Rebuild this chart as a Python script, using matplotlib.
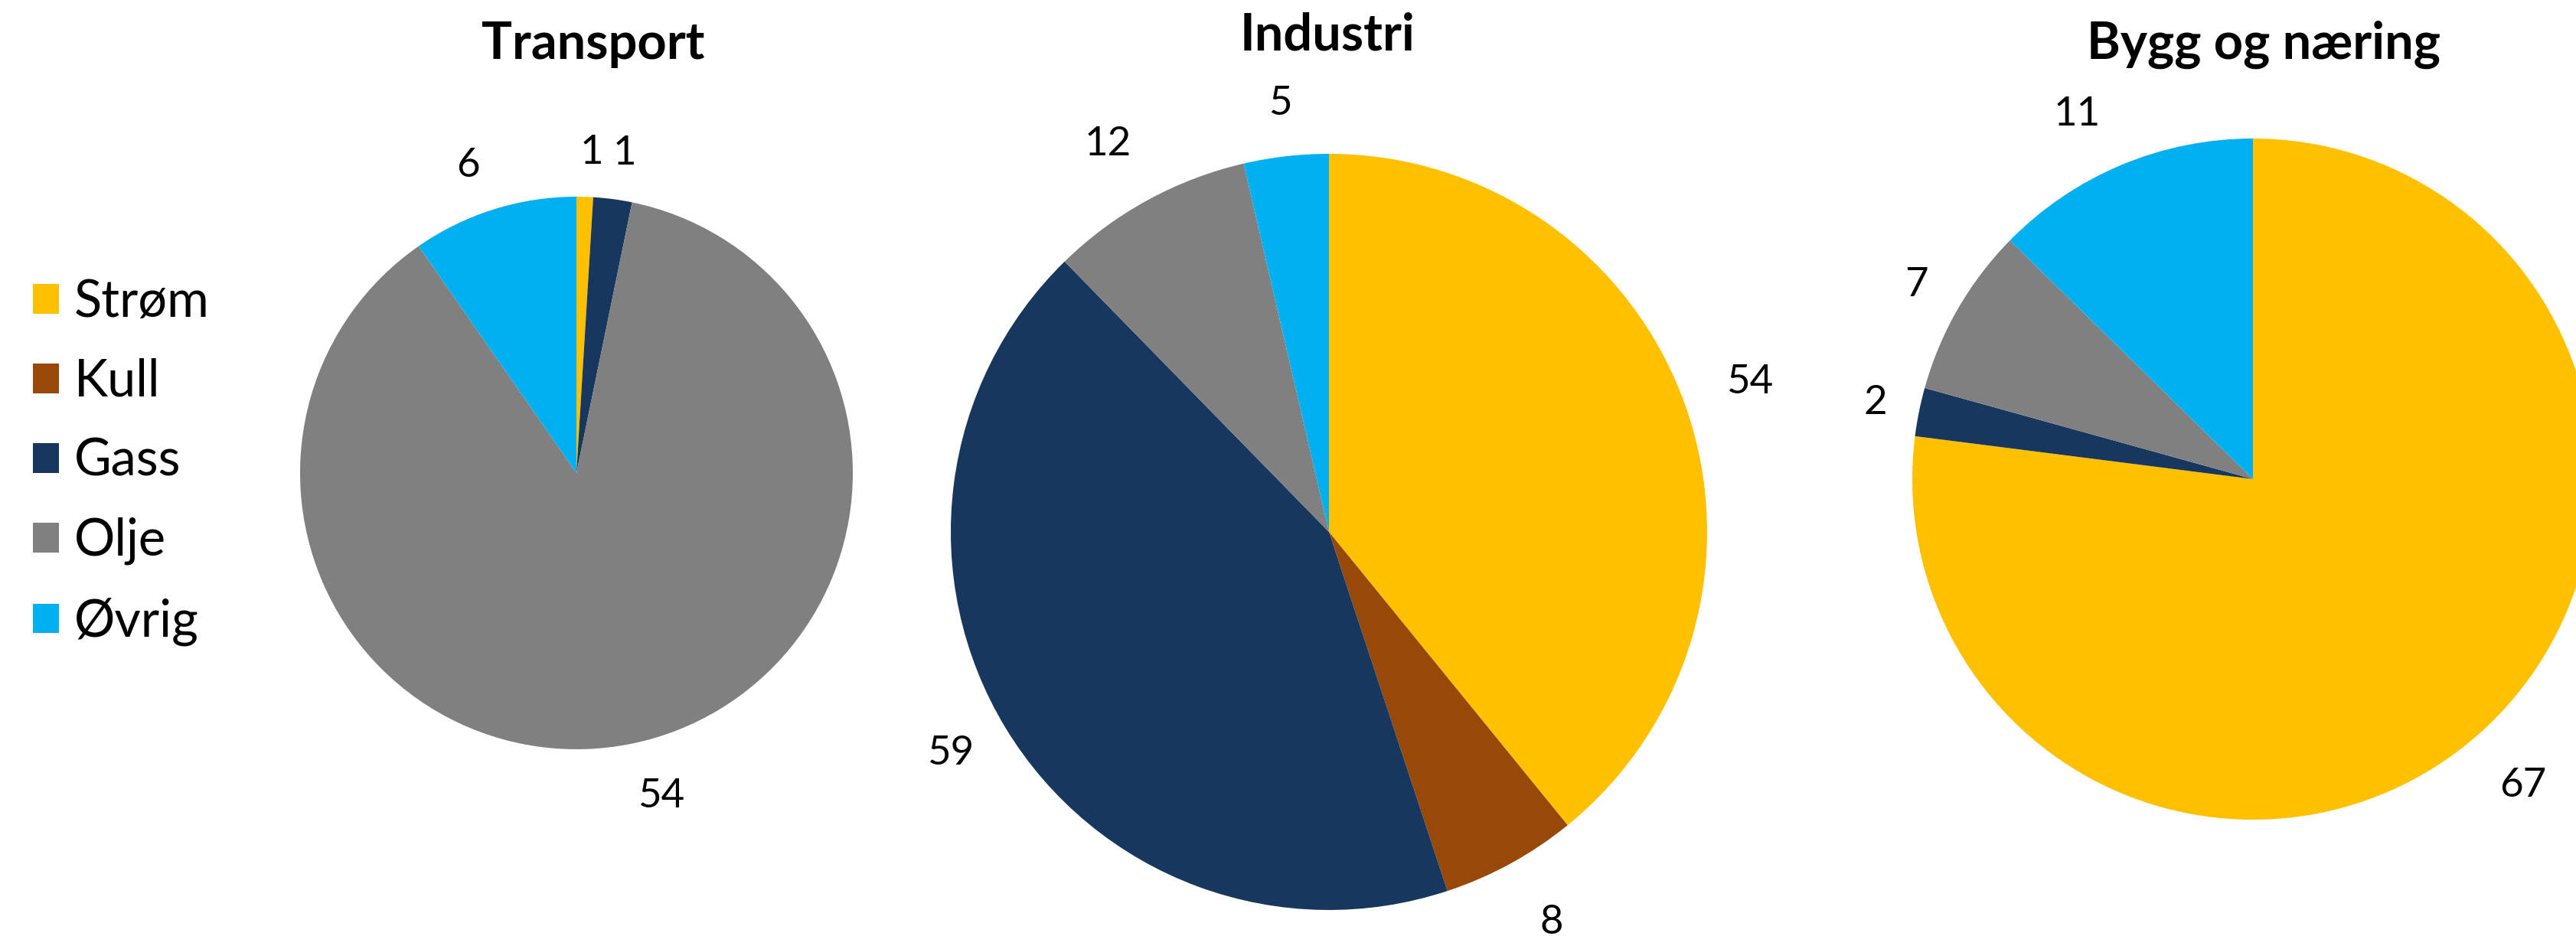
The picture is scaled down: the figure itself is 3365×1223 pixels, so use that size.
import matplotlib
matplotlib.use("Agg")
import matplotlib.pyplot as plt
import matplotlib.patches as mpatches
import numpy as np

plt.rcParams['font.family'] = ['Lato', 'DejaVu Sans']

# ---- data ----
categories = ["Strøm", "Kull", "Gass", "Olje", "Øvrig"]
colors = ["#FFC000", "#984807", "#17375E", "#808080", "#00B0F0"]

titles = ["Transport", "Industri", "Bygg og næring"]
transport = [0.6, 0.0, 1.4, 54, 6]
industri = [54, 8, 59, 12, 5]
bygg = [67, 0.0, 2, 7, 11]
series = [transport, industri, bygg]

# ---- layout / style (pixels in a 3365x1223 figure) ----
W, H = 3365, 1223
DPI = 100
centers = [(753, 618), (1736, 695), (2943, 626)]
radii = [361, 494, 445]
title_pos = [(775, 58), (1734, 47), (2957, 58)]
# per-label placement: (angle offset in degrees, distance in radii)
label_style = [
    [(1, 1.16), (0, 0), (1, 1.17), (-3, 1.21), (-2, 1.18)],
    [(0, 1.18), (-1, 1.19), (1, 1.16), (-1, 1.18), (0, 1.14)],
    [(0, 1.20), (0, 0), (0, 1.13), (0, 1.14), (-3, 1.19)],
]

fig = plt.figure(figsize=(W / DPI, H / DPI), dpi=DPI)
fig.patch.set_facecolor("white")

for i, vals in enumerate(series):
    cx, cy = centers[i]
    R = radii[i]
    ax = fig.add_axes([(cx - R) / W, (H - cy - R) / H, 2 * R / W, 2 * R / H])
    wedges, _ = ax.pie(vals, colors=colors, startangle=90, counterclock=False,
                       radius=1, wedgeprops=dict(linewidth=0))
    ax.set_xlim(-1, 1)
    ax.set_ylim(-1, 1)
    ax.set_aspect("equal")
    ax.axis("off")
    total = sum(vals)
    cum = 0.0
    for j, v in enumerate(vals):
        if v > 0:
            mid = (cum + v / 2) / total * 360.0
            off, dist = label_style[i][j]
            th = np.deg2rad(mid + off)
            ax.text(dist * np.sin(th), dist * np.cos(th), f"{v:.0f}",
                    ha="center", va="center", fontsize=38, color="#000000")
        cum += v
    tx, ty = title_pos[i]
    fig.text(tx / W, 1 - ty / H, titles[i], ha="center", va="center",
             fontsize=48, fontweight="bold", color="#000000")

handles = [mpatches.Patch(facecolor=c, edgecolor="none") for c in colors]
fig.legend(handles, categories, loc="upper left",
           bbox_to_anchor=(43 / W, 1 - 364 / H), frameon=False,
           fontsize=48, handlelength=0.51, handleheight=0.51,
           handletextpad=0.3, labelspacing=0.63, borderpad=0,
           borderaxespad=0)

fig.savefig("out.png", dpi=DPI, facecolor="white")
